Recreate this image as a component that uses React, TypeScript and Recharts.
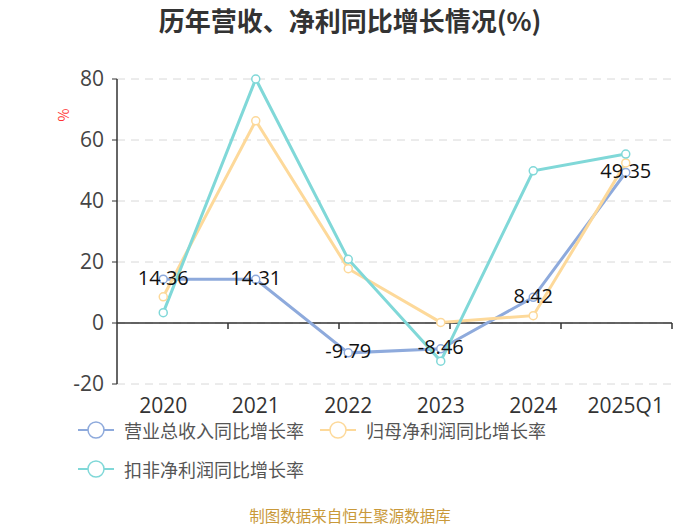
import React from "react";
import { CartesianGrid, LabelList, Line, LineChart, ReferenceLine, XAxis, YAxis } from "recharts";

const years = ["2020", "2021", "2022", "2023", "2024", "2025Q1"];
const revenueGrowth = [14.36, 14.31, -9.79, -8.46, 8.42, 49.35];
const parentProfitGrowth = [8.6, 66.3, 17.8, 0.2, 2.4, 52.5];
const deductedProfitGrowth = [3.4, 80.0, 20.9, -12.5, 49.9, 55.4];
const yTicks = [-20, 0, 20, 40, 60, 80];
const bandEdges = [1, 2, 3, 4, 5, 6];

const FONT = '"Noto Sans CJK SC", "Open Sans", sans-serif';
const NUM_FONT = '"Open Sans", "Noto Sans CJK SC", sans-serif';
const BLUE = "#8eaadc";
const YELLOW = "#fdd99a";
const TEAL = "#80d8d8";

const series = [
  { key: "营业总收入同比增长率", color: BLUE, values: revenueGrowth },
  { key: "归母净利润同比增长率", color: YELLOW, values: parentProfitGrowth },
  { key: "扣非净利润同比增长率", color: TEAL, values: deductedProfitGrowth },
];

const data = years.map((year, i) => ({
  year,
  [series[0].key]: series[0].values[i],
  [series[1].key]: series[1].values[i],
  [series[2].key]: series[2].values[i],
}));

function PointLabel(props: any) {
  const { x, y, value } = props;
  return (
    <text x={x} y={y - 2} textAnchor="middle" dominantBaseline="central" fontSize={20} fill="#111" fontFamily={NUM_FONT}>
      {value}
    </text>
  );
}

function LegendItem({ color, label, left, top }: { color: string; label: string; left: number; top: number }) {
  return (
    <div style={{ position: "absolute", left, top, display: "flex", alignItems: "center", height: 24 }}>
      <svg width={36} height={24}>
        <line x1={0} y1={12} x2={36} y2={12} stroke={color} strokeWidth={2} />
        <circle cx={18} cy={12} r={8} fill="#fff" stroke={color} strokeWidth={1.5} />
      </svg>
      <span style={{ marginLeft: 10, fontSize: 18, color: "#555", whiteSpace: "nowrap" }}>{label}</span>
    </div>
  );
}

export default function App() {
  return (
    <div style={{ position: "relative", width: 700, height: 525, background: "#fff", fontFamily: FONT }}>
      <style>{`body{margin:0}`}</style>
      <div style={{ position: "absolute", left: 0, right: 0, top: 1, textAlign: "center", fontSize: 26, fontWeight: "bold", color: "#333", lineHeight: "38px" }}>
        历年营收、净利同比增长情况(%)
      </div>
      <LineChart width={700} height={525} data={data} margin={{ top: 79, right: 28, bottom: 111, left: 57 }}>
        <CartesianGrid vertical={false} stroke="#d8d8d8" strokeDasharray="8 6" />
        <XAxis dataKey="year" scale="band" axisLine={false} tickLine={false} height={30} tickMargin={8}
          tick={{ fontSize: 21, fill: "#333", fontFamily: NUM_FONT }} interval={0} />
        <XAxis xAxisId="edges" type="number" domain={[0, 6]} hide />
        <YAxis domain={[-20, 80]} ticks={yTicks} width={60} axisLine={{ stroke: "#333", strokeWidth: 1.5 }}
          tickLine={{ stroke: "#333" }} tickSize={5} tickMargin={8}
          tick={{ fontSize: 21, fill: "#444", fontFamily: NUM_FONT }}
          label={{ content: (p: any) => (
            <text x={p.viewBox.x + 6} y={p.viewBox.y + 36} transform={`rotate(-90 ${p.viewBox.x + 6} ${p.viewBox.y + 36})`}
              textAnchor="middle" dominantBaseline="central" fontSize={14} fill="#ff3333" fontFamily={FONT}>%</text>
          ) }} />
        <ReferenceLine y={0} stroke="#333" strokeWidth={1.5} />
        {bandEdges.map((e) => (
          <ReferenceLine key={e} xAxisId="edges" segment={[{ x: e, y: 0 }, { x: e, y: -2 }]} stroke="#333" strokeWidth={1.5} />
        ))}
        {series.map((s, i) => (
          <Line key={s.key} dataKey={s.key} stroke={s.color} strokeWidth={3} isAnimationActive={false}
            dot={{ r: 4, fill: "#fff", stroke: s.color, strokeWidth: 1.5 }} activeDot={false}>
            {i === 0 && <LabelList dataKey={s.key} content={PointLabel} />}
          </Line>
        ))}
      </LineChart>
      <LegendItem color={BLUE} label={series[0].key} left={78} top={418} />
      <LegendItem color={YELLOW} label={series[1].key} left={320} top={418} />
      <LegendItem color={TEAL} label={series[2].key} left={78} top={457} />
      <div style={{ position: "absolute", left: 0, right: 0, top: 504, textAlign: "center", fontSize: 15.5, color: "#c9993a" }}>
        制图数据来自恒生聚源数据库
      </div>
    </div>
  );
}
